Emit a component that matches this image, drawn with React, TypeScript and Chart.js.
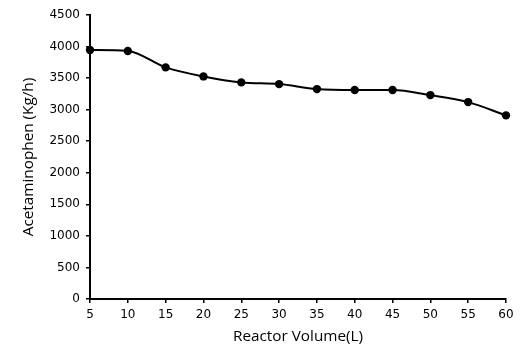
import React, { useEffect, useRef } from "react";
import { Chart, registerables } from "chart.js";

Chart.register(...registerables);

const reactorVolume = [5, 10, 15, 20, 25, 30, 35, 40, 45, 50, 55, 60];
const acetaminophen = [3945, 3930, 3670, 3527, 3432, 3405, 3326, 3311, 3311, 3231, 3120, 2910];
const xTitle = "Reactor Volume(L)";
const yTitle = "Acetaminophen (Kg/h)";

export default function App() {
  const ref = useRef<HTMLCanvasElement | null>(null);
  useEffect(() => {
    if (!ref.current) return;
    const tickFont = { family: "'DejaVu Sans', Verdana, sans-serif", size: 12 };
    const titleFont = { family: "'Open Sans', sans-serif", size: 15.3 };
    const chart = new Chart(ref.current, {
      type: "line",
      data: {
        datasets: [
          {
            data: reactorVolume.map((x, i) => ({ x, y: acetaminophen[i] })),
            borderColor: "#000",
            backgroundColor: "#000",
            borderWidth: 2,
            pointRadius: 4.2,
            pointBackgroundColor: "#000",
            pointBorderColor: "#000",
            pointBorderWidth: 0,
            tension: 0.4,
            cubicInterpolationMode: "monotone",
            clip: false as any,
          },
        ],
      },
      options: {
        animation: false,
        responsive: false,
        maintainAspectRatio: false,
        layout: { padding: { left: 19, right: 20, top: 15, bottom: 11 } },
        plugins: { legend: { display: false }, tooltip: { enabled: false } },
        scales: {
          x: {
            type: "linear",
            min: 5,
            max: 60,
            ticks: { stepSize: 5, color: "#000", font: tickFont, padding: 5, maxRotation: 0, callback: (v: any) => String(v) },
            grid: { display: true, drawOnChartArea: false, drawTicks: true, tickLength: 4, color: "#000", lineWidth: 1.5 },
            border: { display: true, color: "#000", width: 2 },
            title: { display: true, text: xTitle, color: "#000", font: titleFont, padding: { top: 0, bottom: 0 } },
            afterFit: (s: any) => { s.height = 47; },
          },
          y: {
            min: 0,
            max: 4500,
            ticks: { stepSize: 500, color: "#000", font: tickFont, padding: 6, callback: (v: any) => String(v) },
            grid: { display: true, drawOnChartArea: false, drawTicks: true, tickLength: 4, color: "#000", lineWidth: 1.5 },
            border: { display: true, color: "#000", width: 2 },
            title: { display: true, text: yTitle, color: "#000", font: titleFont, padding: { top: 0, bottom: 0 } },
            afterFit: (s: any) => { s.width = 71; },
          },
        },
      },
    });
    return () => chart.destroy();
  }, []);
  return (
    <div style={{ position: "fixed", left: 0, top: 0, width: 526, height: 357, background: "#fff" }}>
      <canvas ref={ref} width={526} height={357} style={{ width: 526, height: 357 }} />
    </div>
  );
}
